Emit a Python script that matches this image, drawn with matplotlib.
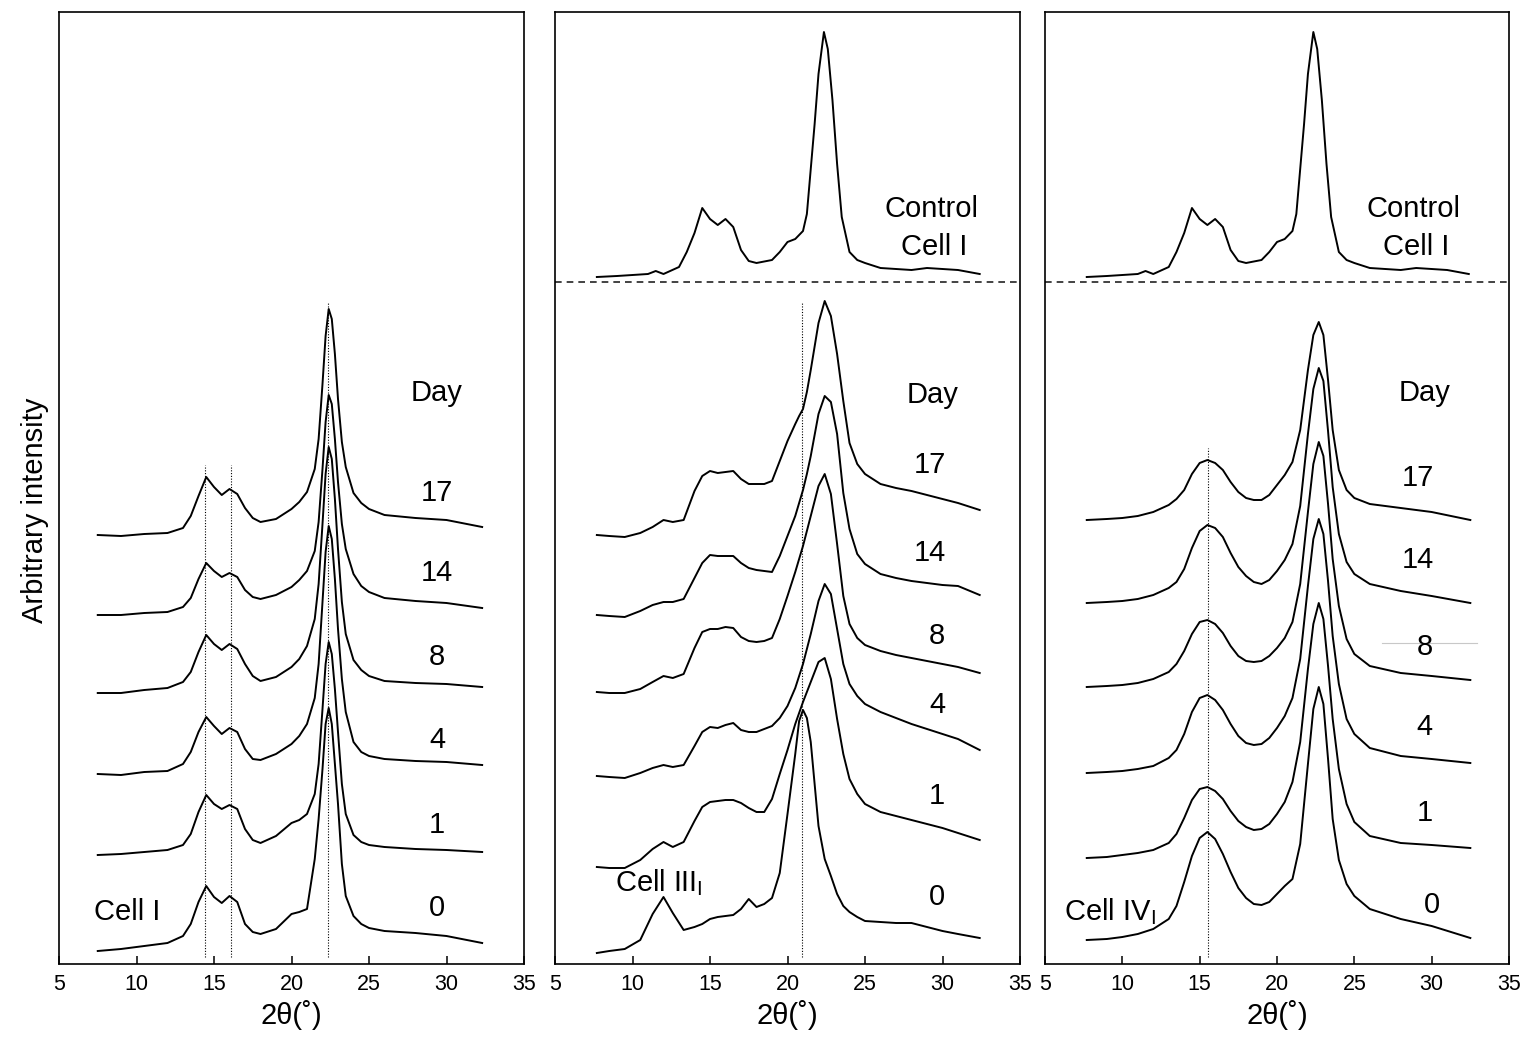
import matplotlib
matplotlib.use('Agg')
import matplotlib.pyplot as plt

plt.rcParams['font.family'] = ['Liberation Sans', 'DejaVu Sans']
plt.rcParams['mathtext.fontset'] = 'custom'
plt.rcParams['mathtext.rm'] = 'Liberation Sans'

days = ['17', '14', '8', '4', '1', '0']

# ---- Cell I (left panel) ----
tt1 = [7.5, 9, 10.5, 12, 13, 13.5, 14, 14.5, 15, 15.5, 16, 16.5, 17, 17.5, 18, 19, 20, 20.5,
       21, 21.5, 21.75, 22, 22.2, 22.4, 22.6, 22.8, 23, 23.25, 23.5, 24, 24.5, 25, 26, 28, 30, 32.3]
c1_d17 = [429, 428, 430, 431, 436, 448, 468, 487, 477, 469, 475, 470, 456, 446, 442, 445, 455, 462,
          472, 495, 525, 580, 628, 655, 645, 610, 565, 522, 497, 471, 461, 455, 449, 446, 444, 437]
c1_d14 = [349, 349, 351, 352, 357, 366, 385, 401, 393, 387, 391, 387, 374, 367, 365, 369, 377, 384,
          393, 413, 442, 495, 542, 569, 560, 525, 482, 440, 415, 390, 378, 372, 366, 363, 361, 356]
c1_d8 = [271, 271, 274, 276, 282, 292, 312, 329, 320, 314, 320, 315, 300, 288, 283, 287, 297, 305,
         318, 345, 380, 440, 490, 517, 505, 465, 415, 362, 330, 304, 294, 288, 283, 281, 280, 277]
c1_d4 = [190, 189, 192, 193, 200, 212, 232, 247, 238, 230, 236, 232, 215, 205, 204, 210, 220, 228,
         240, 266, 300, 362, 412, 438, 425, 385, 335, 285, 252, 222, 212, 208, 205, 203, 202, 199]
c1_d1 = [109, 110, 112, 114, 119, 130, 152, 169, 160, 155, 159, 155, 135, 124, 121, 128, 141, 144,
         150, 170, 200, 255, 300, 322, 310, 275, 232, 180, 150, 129, 122, 119, 117, 115, 114, 112]
c1_d0 = [13, 15, 18, 21, 28, 40, 62, 78, 67, 61, 68, 62, 40, 32, 30, 35, 50, 52,
         55, 105, 145, 195, 240, 256, 240, 200, 160, 100, 68, 48, 40, 36, 33, 31, 28, 21]
guides_1 = [14.45, 16.1, 22.35]

# ---- Control Cell I (top of middle and right panels) ----
tt_ctrl = [7.7, 9, 10, 11, 11.5, 12, 13, 13.5, 14, 14.5, 15, 15.5, 16, 16.5, 17, 17.5, 18, 19, 19.5,
           20, 20.5, 21, 21.25, 21.5, 21.75, 22, 22.35, 22.6, 22.9, 23.2, 23.5, 24, 24.5, 25, 26,
           27, 28, 29, 30, 31, 32.4]
ctrl = [687, 688, 689, 690, 693, 690, 697, 712, 731, 756, 745, 739, 745, 737, 714, 703, 701, 704, 712,
        722, 725, 733, 750, 795, 840, 890, 932, 915, 864, 800, 747, 712, 704, 701, 696,
        695, 694, 696, 695, 694, 690]

# ---- Cell III_I (middle panel) ----
tt2 = [7.7, 8.5, 9.5, 10.5, 11.3, 12, 12.6, 13.3, 14, 14.5, 15, 15.5, 16, 16.5, 17, 17.5, 18, 18.5,
       19, 19.5, 20, 20.5, 20.75, 21, 21.25, 21.5, 22, 22.4, 22.8, 23.2, 23.6, 24, 24.5, 25, 26, 27,
       28, 29, 30, 31, 32.4]
c3_d17 = [429, 428, 427, 431, 437, 444, 442, 444, 473, 488, 493, 491, 492, 493, 485, 480, 480, 480,
          483, 503, 523, 540, 548, 555, 572, 594, 641, 663, 648, 610, 563, 521, 500, 490, 480, 476,
          473, 469, 465, 461, 454]
c3_d14 = [349, 348, 347, 353, 359, 362, 362, 365, 386, 401, 409, 408, 408, 408, 401, 396, 394, 393,
          392, 408, 428, 448, 461, 474, 490, 508, 550, 568, 562, 530, 471, 435, 410, 400, 390, 386,
          383, 381, 379, 378, 369]
c3_d8 = [272, 271, 271, 275, 282, 288, 286, 290, 316, 332, 335, 335, 337, 336, 327, 323, 322, 323,
         326, 345, 368, 392, 405, 418, 433, 448, 478, 490, 470, 420, 368, 340, 326, 319, 313, 309,
         306, 303, 300, 297, 291]
c3_d4 = [188, 187, 186, 191, 196, 199, 197, 199, 218, 232, 237, 236, 239, 241, 234, 232, 232, 235,
         238, 246, 258, 276, 288, 300, 315, 330, 363, 380, 370, 335, 300, 280, 268, 260, 252, 246,
         240, 235, 230, 225, 214]
c3_d1 = [97, 96, 96, 104, 115, 122, 117, 122, 143, 157, 162, 163, 164, 164, 161, 156, 152, 152,
         165, 190, 214, 240, 251, 262, 272, 282, 302, 306, 285, 245, 210, 185, 170, 160, 152, 148,
         144, 140, 136, 131, 124]
c3_d0 = [11, 13, 15, 24, 50, 67, 51, 34, 37, 40, 45, 47, 48, 49, 55, 65, 57, 60,
         66, 91, 150, 210, 243, 254, 246, 222, 138, 105, 88, 70, 58, 52, 47, 43, 42, 41,
         41, 37, 33, 30, 26]
guides_3 = [20.95]

# ---- Cell IV_I (right panel) ----
tt3 = [7.7, 9, 10, 11, 12, 13, 13.5, 14, 14.5, 15, 15.5, 16, 16.5, 17, 17.5, 18, 18.5, 19, 19.5,
       20, 20.5, 21, 21.5, 22, 22.35, 22.7, 23.0, 23.3, 23.6, 24, 24.5, 25, 26, 28, 30, 32.5]
c4_d17 = [444, 445, 446, 448, 452, 459, 465, 474, 490, 501, 504, 501, 494, 482, 472, 466, 464, 464, 469,
          479, 489, 502, 534, 594, 629, 642, 629, 584, 534, 494, 474, 466, 460, 456, 452, 444]
c4_d14 = [361, 362, 363, 365, 369, 376, 382, 395, 416, 433, 439, 436, 427, 411, 397, 388, 382, 380, 384,
          393, 404, 420, 458, 530, 575, 596, 583, 533, 477, 430, 402, 390, 380, 373, 368, 361]
c4_d8 = [277, 278, 279, 281, 285, 292, 300, 313, 330, 342, 344, 340, 331, 318, 308, 303, 302, 303, 308,
         316, 326, 342, 380, 452, 500, 522, 508, 460, 405, 358, 325, 310, 298, 291, 288, 284]
c4_d4 = [191, 192, 193, 195, 198, 206, 214, 230, 252, 266, 269, 264, 254, 240, 228, 221, 219, 220, 226,
         236, 248, 266, 305, 378, 425, 445, 430, 383, 328, 280, 245, 230, 216, 208, 205, 201]
c4_d1 = [106, 107, 109, 111, 114, 121, 130, 146, 164, 175, 177, 173, 165, 153, 143, 137, 134, 135, 140,
         150, 162, 182, 222, 295, 340, 361, 345, 298, 245, 195, 160, 142, 128, 121, 119, 116]
c4_d0 = [24, 25, 27, 30, 35, 45, 58, 82, 108, 126, 132, 125, 110, 92, 76, 66, 60, 59, 62,
         70, 78, 85, 120, 200, 255, 277, 260, 205, 145, 104, 80, 68, 55, 45, 38, 26]
guides_4 = [15.54]

fig = plt.figure(figsize=(15.3, 10.4), dpi=100)
H = 1040.0
W = 1530.0
boxes = [(59, 524), (555, 1020), (1045, 1509)]
axes = []
for l, r in boxes:
    ax = fig.add_axes([l / W, 1 - 964 / H, (r - l) / W, 952 / H])
    ax.set_xlim(5, 35)
    ax.set_ylim(0, 952)
    ax.set_xticks(range(5, 36, 5))
    ax.set_yticks([])
    ax.tick_params(axis='x', direction='in', length=6, width=1.1, labelsize=15.5, pad=7)
    for s in ax.spines.values():
        s.set_linewidth(1.2)
    ax.set_xlabel('2θ(˚)', fontsize=21, labelpad=4)
    axes.append(ax)

lw = 1.4
ax1, ax2, ax3 = axes

for ys in [c1_d17, c1_d14, c1_d8, c1_d4, c1_d1, c1_d0]:
    ax1.plot(tt1, ys, color='black', lw=lw)
ax1.vlines(guides_1, 7, [499, 499, 662], colors='black', lw=0.8, linestyles=(0, (1, 1.5)))

for ys in [c3_d17, c3_d14, c3_d8, c3_d4, c3_d1, c3_d0]:
    ax2.plot(tt2, ys, color='black', lw=lw)
ax2.vlines(guides_3, 7, 662, colors='black', lw=0.8, linestyles=(0, (1, 1.5)))

for ys in [c4_d17, c4_d14, c4_d8, c4_d4, c4_d1, c4_d0]:
    ax3.plot(tt3, ys, color='black', lw=lw)
ax3.vlines(guides_4, 7, 516, colors='black', lw=0.8, linestyles=(0, (1, 1.5)))
ax3.plot([26.8, 32.9], [321, 321], color='#c8c8c8', lw=0.8)

for ax in (ax2, ax3):
    ax.plot(tt_ctrl, ctrl, color='black', lw=lw)
    ax.axhline(682, color='#222222', lw=1.2, ls=(0, (4, 3)))

fs = 21
# day labels
lab1 = [(29.39, 571, 'Day')] + list(zip([29.39] * 6, [471, 391, 307, 224, 139, 56], days))
lab2 = [(29.39, 569, 'Day')] + list(zip([29.2, 29.2, 29.65, 29.65, 29.65, 29.65],
                                        [499, 411, 328, 259, 168, 67], days))
lab3 = [(29.56, 571, 'Day')] + list(zip([29.1, 29.1, 29.56, 29.56, 29.56, 30.0],
                                        [486, 404, 317, 237, 151, 59], days))
for ax, labs in ((ax1, lab1), (ax2, lab2), (ax3, lab3)):
    for x, y, t in labs:
        ax.text(x, y, t, fontsize=fs, ha='center', va='center')

ax1.text(9.39, 52, 'Cell I', fontsize=fs, ha='center', va='center')
ax2.text(8.87, 81, r'Cell III$_\mathregular{I}$', fontsize=fs, ha='left', va='center')
ax3.text(6.2, 52, r'Cell IV$_\mathregular{I}$', fontsize=fs, ha='left', va='center')
for ax, x in ((ax2, 29.3), (ax3, 28.85)):
    ax.text(x, 755, 'Control', fontsize=fs, ha='center', va='center')
    ax.text(x + 0.15, 717, 'Cell I', fontsize=fs, ha='center', va='center')

fig.text(35 / W, 1 - 510 / H, 'Arbitrary intensity', rotation=90, fontsize=21,
         ha='center', va='center')

fig.savefig('out.png', dpi=100)
